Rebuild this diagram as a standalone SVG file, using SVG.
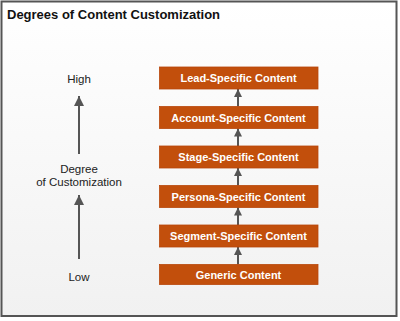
<svg xmlns="http://www.w3.org/2000/svg" width="400" height="321" viewBox="0 0 400 321">
<defs>
<linearGradient id="bg" x1="0" y1="0" x2="0" y2="1">
<stop offset="0" stop-color="#ffffff"/>
<stop offset="1" stop-color="#f1f1f1"/>
</linearGradient>
<marker id="ah" viewBox="0 0 10 10" refX="10" refY="5" markerWidth="5.5" markerHeight="5" orient="auto" markerUnits="strokeWidth">
<path d="M0,0 L10,5 L0,10 Z" fill="#555555"/>
</marker>
<marker id="bh" viewBox="0 0 10 10" refX="10" refY="5" markerWidth="4.2" markerHeight="4" orient="auto" markerUnits="strokeWidth">
<path d="M0,0 L10,5 L0,10 Z" fill="#555555"/>
</marker>
</defs>
<style>
.box{fill:#C24F0C;stroke:#B8470A;stroke-width:0.8}
.bt{font-family:"Liberation Sans",Arial,sans-serif;font-weight:bold;font-size:11px;fill:#ffffff;text-anchor:middle}
.lt{font-family:"Liberation Sans",Arial,sans-serif;font-size:11.5px;fill:#222222;text-anchor:middle}
.con{stroke:#555555;stroke-width:2;fill:none}
.bcon{stroke:#555555;stroke-width:2;fill:none}
</style>
<rect x="0" y="0" width="400" height="321" fill="#ffffff"/>
<rect x="1.5" y="1.5" width="395" height="314.5" fill="url(#bg)" stroke="#555555" stroke-width="2"/>
<text x="7" y="19" font-family="'Liberation Sans',Arial,sans-serif" font-weight="bold" font-size="13" fill="#111111">Degrees of Content Customization</text>
<g id="connectors">
<line class="con" x1="79" y1="154" x2="79" y2="96" marker-end="url(#ah)"/>
<line class="con" x1="79" y1="259" x2="79" y2="195" marker-end="url(#ah)"/>
<line class="bcon" x1="238" y1="264.5" x2="238" y2="247" marker-end="url(#bh)"/>
<line class="bcon" x1="238" y1="225" x2="238" y2="207.5" marker-end="url(#bh)"/>
<line class="bcon" x1="238" y1="185.5" x2="238" y2="168" marker-end="url(#bh)"/>
<line class="bcon" x1="238" y1="146" x2="238" y2="128.5" marker-end="url(#bh)"/>
<line class="bcon" x1="238" y1="106.5" x2="238" y2="89" marker-end="url(#bh)"/>
</g>
<g id="axis-labels">
<text class="lt" x="79" y="83">High</text>
<text class="lt" x="79" y="173">Degree</text>
<text class="lt" x="79" y="186">of Customization</text>
<text class="lt" x="79" y="281">Low</text>
</g>
<g id="lead"><rect class="box" x="159.5" y="67" width="158.5" height="22"/><text class="bt" x="238.5" y="82">Lead-Specific Content</text></g>
<g id="account"><rect class="box" x="159.5" y="106.5" width="158.5" height="22"/><text class="bt" x="238.5" y="121.5">Account-Specific Content</text></g>
<g id="stage"><rect class="box" x="159.5" y="146" width="158.5" height="22"/><text class="bt" x="238.5" y="161">Stage-Specific Content</text></g>
<g id="persona"><rect class="box" x="159.5" y="185.5" width="158.5" height="22"/><text class="bt" x="238.5" y="200.5">Persona-Specific Content</text></g>
<g id="segment"><rect class="box" x="159.5" y="225" width="158.5" height="22"/><text class="bt" x="238.5" y="240">Segment-Specific Content</text></g>
<g id="generic"><rect class="box" x="159.5" y="264.5" width="158.5" height="20"/><text class="bt" x="238.5" y="278.5">Generic Content</text></g>
</svg>
